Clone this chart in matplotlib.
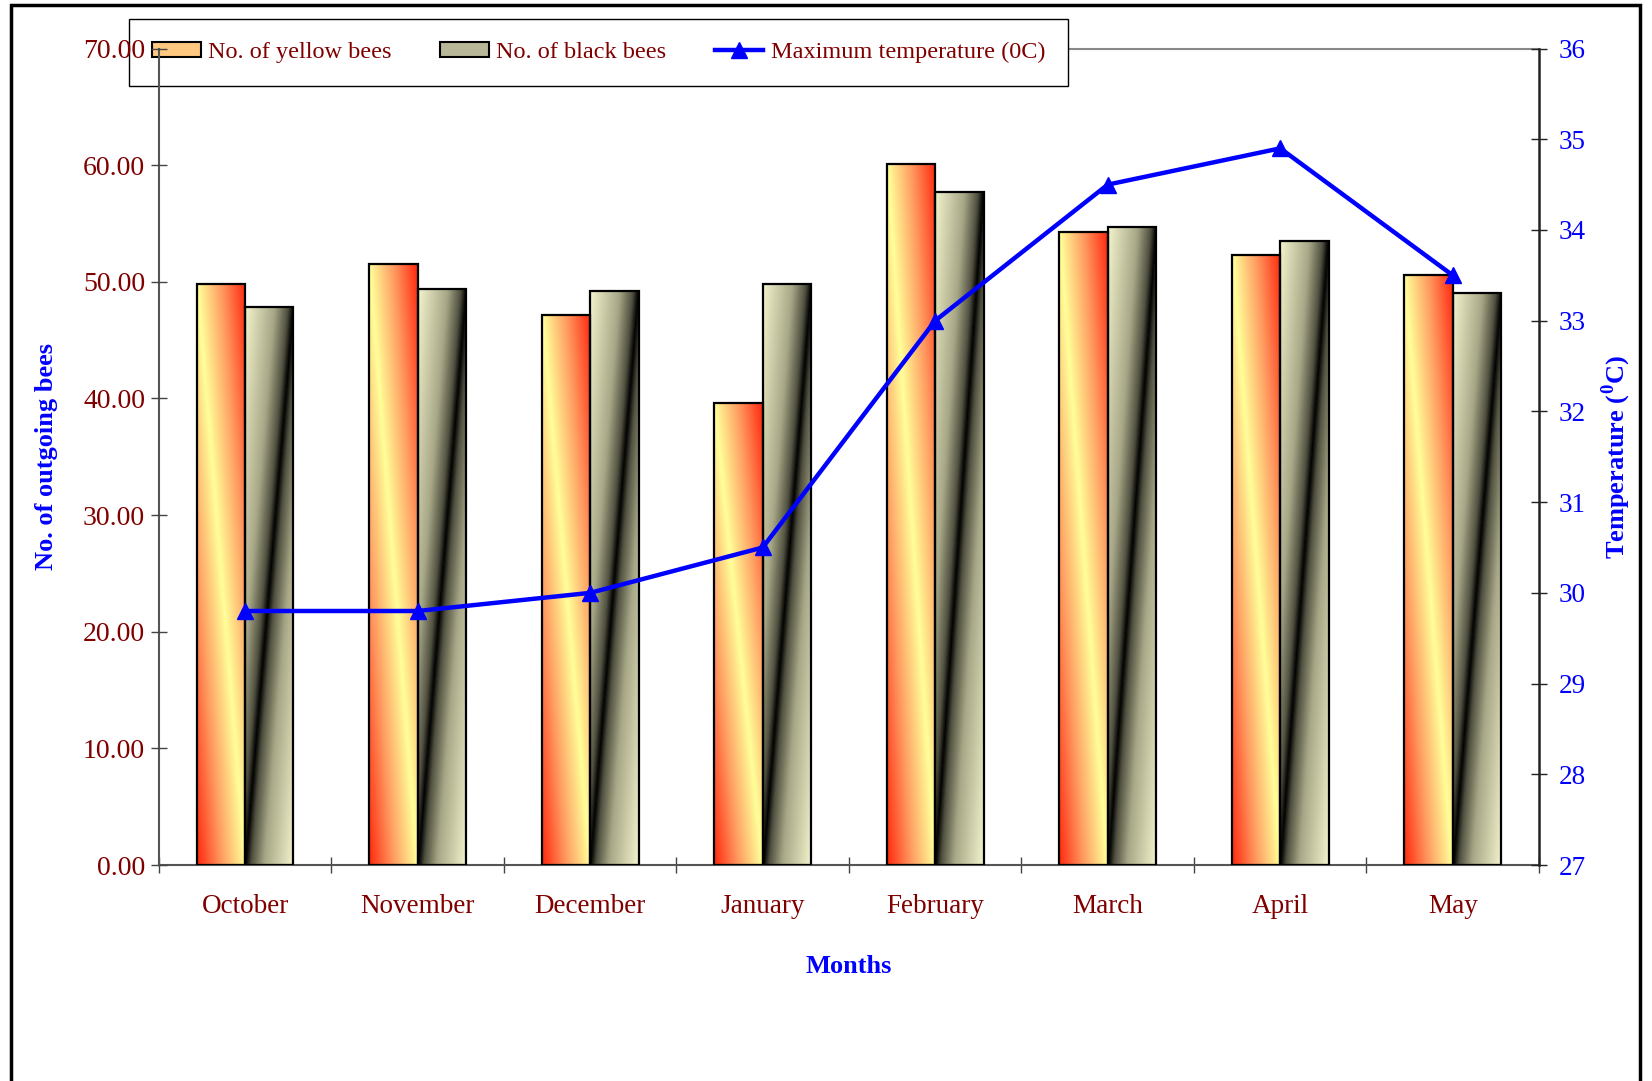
import matplotlib
matplotlib.use("Agg")
import matplotlib.pyplot as plt
import numpy as np
from matplotlib.colors import LinearSegmentedColormap
from matplotlib.patches import Rectangle
from matplotlib.lines import Line2D

plt.rcParams['font.family'] = ['Liberation Serif', 'DejaVu Serif']
plt.rcParams['mathtext.fontset'] = 'custom'
plt.rcParams['mathtext.rm'] = 'Liberation Serif'
plt.rcParams['mathtext.bf'] = 'Liberation Serif:bold'

# data
meses = ['October', 'November', 'December', 'January', 'February', 'March', 'April', 'May']
abelhas_amarelas = [49.8, 51.5, 47.15, 39.6, 60.1, 54.3, 52.3, 50.6]
abelhas_pretas = [47.8, 49.4, 49.2, 49.8, 57.7, 54.7, 53.5, 49.05]
temp_max = [29.8, 29.8, 30.0, 30.5, 33.0, 34.5, 34.9, 33.5]

VERMELHO_ESCURO = '#800000'
AZUL = '#0000FF'

cmap_amarelo = LinearSegmentedColormap.from_list(
    'amarelo', ['#FF2A10', '#FF9A60', '#FFFF99', '#FF9A60', '#FF2A10'])
cmap_preto = LinearSegmentedColormap.from_list(
    'preto', [(0.0, '#F2F2CC'), (0.3, '#A8A888'), (0.44, '#505040'), (0.5, '#000000'),
              (0.56, '#505040'), (0.7, '#A8A888'), (1.0, '#F2F2CC')])


def barra_gradiente(ax, x0, largura, altura, cmap, tipo):
    n = 200
    xf, yf = np.meshgrid(np.linspace(0, 1, 40), np.linspace(0, 1, n))
    if tipo == 'amarelo':
        t = xf + yf - 1.0
    else:
        t = xf - yf
    t = (np.clip(t, -1, 1) + 1) / 2
    ax.imshow(t, cmap=cmap, vmin=0, vmax=1, origin='lower', aspect='auto',
              extent=[x0, x0 + largura, 0, altura], zorder=2, interpolation='bilinear')
    ax.add_patch(Rectangle((x0, 0), largura, altura, fill=False,
                           edgecolor='black', lw=1.6, zorder=3))


fig = plt.figure(figsize=(16.52, 10.81), dpi=100)
ax = fig.add_axes([0.0962, 0.1998, 0.9316 - 0.0962, 0.9551 - 0.1998])

x = np.arange(len(meses))
largura = 0.28
for i in range(len(meses)):
    barra_gradiente(ax, x[i] - largura, largura, abelhas_amarelas[i], cmap_amarelo, 'amarelo')
    barra_gradiente(ax, x[i], largura, abelhas_pretas[i], cmap_preto, 'preto')

ax.set_xlim(-0.5, len(meses) - 0.5)
ax.set_ylim(0, 70)
ax.set_yticks(np.arange(0, 71, 10))
ax.set_yticklabels([f'{v:.2f}' for v in np.arange(0, 71, 10)])
ax.set_xticks(np.arange(-0.5, len(meses), 1.0))
ax.set_xticklabels([])
ax.set_xticks(x, minor=True)
ax.set_xticklabels(meses, minor=True)
ax.tick_params(axis='x', which='major', direction='inout', length=12, width=1, color='#444444')
ax.tick_params(axis='x', which='minor', length=0, pad=21, labelsize=19.5, labelcolor=VERMELHO_ESCURO)
ax.tick_params(axis='y', direction='inout', length=12, width=1, color='#444444',
               labelsize=20, labelcolor=VERMELHO_ESCURO, pad=4)

for lado in ['left', 'bottom']:
    ax.spines[lado].set_color('#555555')
    ax.spines[lado].set_linewidth(1.5)
ax.spines['left'].set_zorder(6)
ax.spines['top'].set_color('#888888')
ax.spines['top'].set_linewidth(1.5)
ax.spines['right'].set_visible(False)
ax.yaxis.set_zorder(6)

ax.set_xlabel('Months', fontsize=19, fontweight='bold', color=AZUL, labelpad=26)
ax.set_ylabel('No. of outgoing bees', fontsize=19, fontweight='bold', color=AZUL, labelpad=18)

ax2 = ax.twinx()
ax2.plot(x, temp_max, color=AZUL, lw=3.2, marker='^', markersize=11, zorder=5)
ax2.set_ylim(27, 36)
ax2.set_yticks(np.arange(27, 37, 1))
ax2.tick_params(axis='y', direction='inout', length=12, width=1, color='#222222',
                labelsize=19.5, labelcolor=AZUL, pad=8)
ax2.spines['right'].set_color('#222222')
ax2.spines['right'].set_linewidth(1.8)
for lado in ['left', 'top', 'bottom']:
    ax2.spines[lado].set_visible(False)
ax2.set_ylabel(r'Temperature ($^{\mathbf{0}}$C)', fontsize=19, fontweight='bold',
               color=AZUL, labelpad=10)

handles = [
    Rectangle((0, 0), 1, 1, facecolor='#FFC880', edgecolor='black', lw=1.5),
    Rectangle((0, 0), 1, 1, facecolor='#B8B898', edgecolor='black', lw=1.5),
    Line2D([], [], color=AZUL, lw=3.2, marker='^', markersize=11),
]
rotulos = ['No. of yellow bees', 'No. of black bees', 'Maximum temperature (0C)']
leg = ax.legend(handles, rotulos, loc='center', bbox_to_anchor=(0.3623, 0.9514),
                bbox_transform=fig.transFigure,
                ncol=3, fontsize=17.5, frameon=True, fancybox=False, framealpha=1,
                edgecolor='black', handlelength=2.0, handleheight=0.6,
                handletextpad=0.3, columnspacing=2.0, borderpad=0.95, borderaxespad=0)
leg.get_frame().set_linewidth(1.0)
leg.set_zorder(5)
for t in leg.get_texts():
    t.set_color(VERMELHO_ESCURO)

fig.patches.append(Rectangle((11 / 1652, -0.1), 1 - 12 / 1652 - 11 / 1652, 1.1 - 5 / 1081,
                             transform=fig.transFigure, fill=False, edgecolor='black', lw=2.5))

fig.savefig('out.png', dpi=100)
